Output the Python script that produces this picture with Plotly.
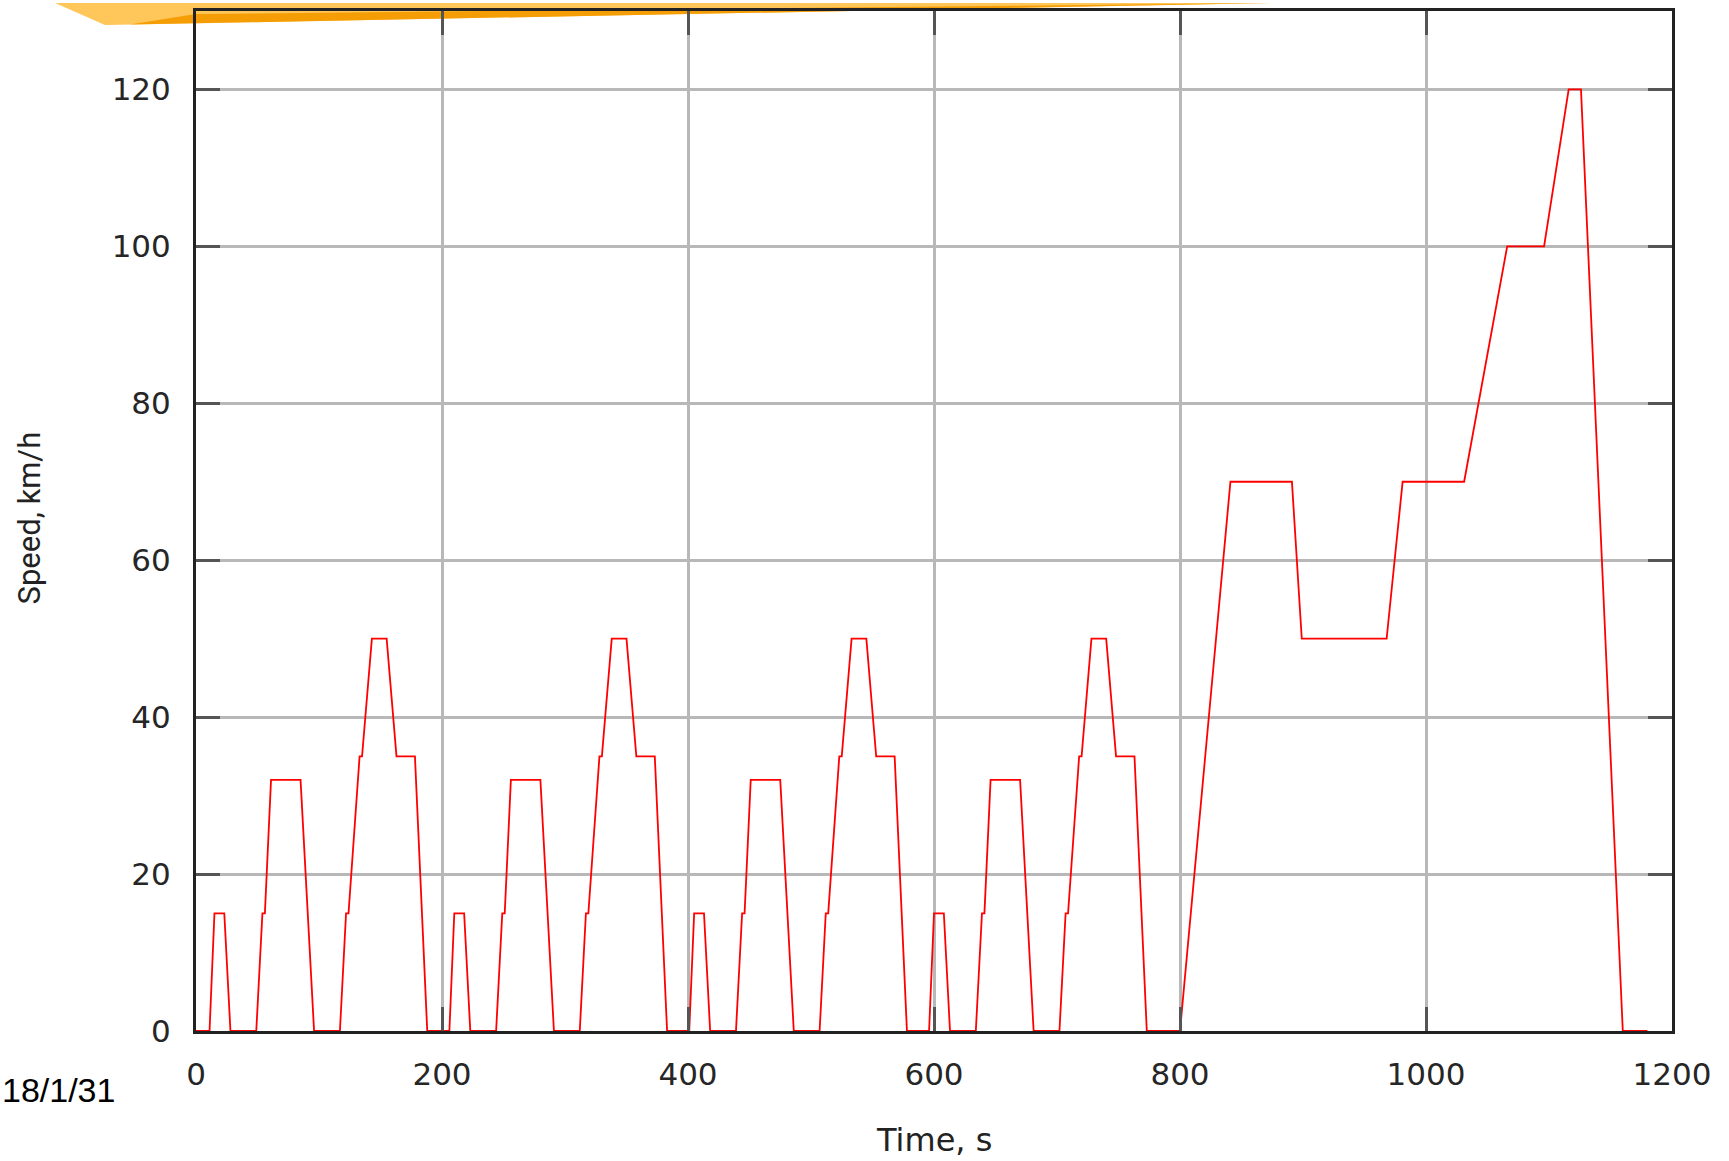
import plotly.graph_objects as go

# NEDC driving cycle: four ECE-15 urban cycles followed by one EUDC cycle
time_s = [
    0, 11, 15, 23, 28, 49, 54, 56, 61, 85, 96, 117, 122, 124, 133, 135, 143, 155, 163, 176, 178, 188,
    195, 206, 210, 218, 223, 244, 249, 251, 256, 280, 291, 312, 317, 319, 328, 330, 338, 350, 358, 371, 373, 383,
    390, 401, 405, 413, 418, 439, 444, 446, 451, 475, 486, 507, 512, 514, 523, 525, 533, 545, 553, 566, 568, 578,
    585, 596, 600, 608, 613, 634, 639, 641, 646, 670, 681, 702, 707, 709, 718, 720, 728, 740, 748, 761, 763, 773,
    780, 800, 841, 891, 899, 968, 981, 1031, 1066, 1096, 1116, 1126, 1160, 1180,
]
speed_kmh = [
    0, 0, 15, 15, 0, 0, 15, 15, 32, 32, 0, 0, 15, 15, 35, 35, 50, 50, 35, 35, 35, 0,
    0, 0, 15, 15, 0, 0, 15, 15, 32, 32, 0, 0, 15, 15, 35, 35, 50, 50, 35, 35, 35, 0,
    0, 0, 15, 15, 0, 0, 15, 15, 32, 32, 0, 0, 15, 15, 35, 35, 50, 50, 35, 35, 35, 0,
    0, 0, 15, 15, 0, 0, 15, 15, 32, 32, 0, 0, 15, 15, 35, 35, 50, 50, 35, 35, 35, 0,
    0, 0, 70, 70, 50, 50, 70, 70, 100, 100, 120, 120, 0, 0,
]
x_ticks = [0, 200, 400, 600, 800, 1000, 1200]
y_ticks = [0, 20, 40, 60, 80, 100, 120]

W, H = 1729, 1161
ML, MR, MT, MB = 196, 57, 8, 130
PW, PH = W - ML - MR, H - MT - MB


def px(x):
    return (x - ML) / PW


def py(y):
    return (H - MB - y) / PH


fig = go.Figure()
fig.add_trace(go.Scatter(
    x=time_s, y=speed_kmh, mode="lines",
    line=dict(color="#ff0000", width=1.8),
    showlegend=False, hoverinfo="x+y",
))

axis_common = dict(
    showline=True, linecolor="#222222", linewidth=3, mirror="allticks",
    ticks="inside", ticklen=24, tickwidth=3, tickcolor="#555555",
    showgrid=True, gridcolor="#b8b8b8", gridwidth=2.5,
    zeroline=False,
    tickfont=dict(family="DejaVu Sans", size=31, color="#262626"),
)

fig.update_xaxes(range=[0, 1200], tickvals=x_ticks, ticktext=[str(v) for v in x_ticks],
                 ticklabelstandoff=14, **axis_common)
fig.update_yaxes(range=[0, 130], tickvals=y_ticks, ticktext=[str(v) for v in y_ticks],
                 ticklabelstandoff=16, **axis_common)

# decorative slide banner at top (orange)
shapes = [
    dict(type="path", xref="paper", yref="paper", layer="below",
         path=f"M {px(55)},{py(0)} L {px(105)},{py(22)} L {px(1275)},{py(0)} Z",
         fillcolor="#ffc65a", line=dict(width=0)),
    dict(type="path", xref="paper", yref="paper", layer="below",
         path=f"M {px(130)},{py(21.5)} L {px(1275)},{py(0)} L {px(196)},{py(11)} Z",
         fillcolor="#f59d05", line=dict(width=0)),
]

annotations = [
    dict(text="Time, s", xref="paper", yref="paper", x=px(934), y=py(1140),
         xanchor="center", yanchor="middle", showarrow=False,
         font=dict(family="DejaVu Sans", size=32, color="#222222")),
    dict(text="Speed, km/h", xref="paper", yref="paper", x=px(30), y=py(517),
         xanchor="center", yanchor="middle", showarrow=False, textangle=-90,
         font=dict(family="Roboto", size=31, color="#222222")),
    dict(text="18/1/31", xref="paper", yref="paper", x=px(0), y=py(1090),
         xanchor="left", yanchor="middle", showarrow=False,
         font=dict(family="Liberation Sans", size=34, color="#000000")),
]

fig.update_layout(
    width=W, height=H,
    margin=dict(l=ML, r=MR, t=MT, b=MB, pad=0),
    paper_bgcolor="white", plot_bgcolor="rgba(0,0,0,0)",
    shapes=shapes, annotations=annotations,
)

fig.write_html(
    "out.html",
    config={"displayModeBar": False},
    post_script="document.body.style.margin='0';document.body.style.overflow='hidden';",
)
